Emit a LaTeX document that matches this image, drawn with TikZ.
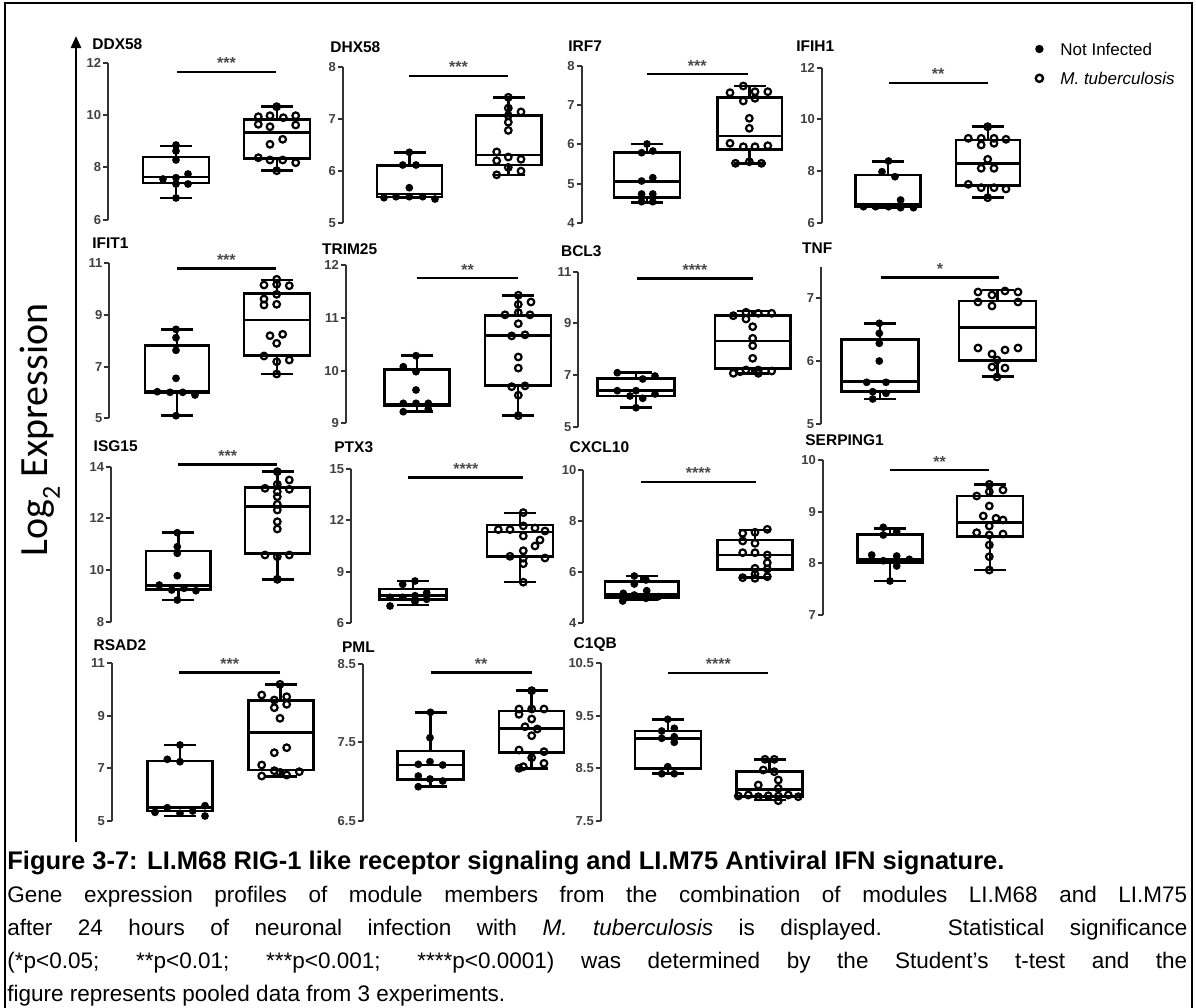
\documentclass[tikz,border=0pt]{standalone}
\usepackage{fontspec}
\setmainfont{Liberation Sans}
\newfontfamily\calibri{Carlito}
\usetikzlibrary{arrows.meta}
\newcommand\yax[5]{%
  \draw[axl] (#2,#3) -- (#2,#4);
  \foreach \yy/\lab [count=\i] in {#5} {%
    \draw[axl] ({#2-5},\yy) -- (#2,\yy);
    \node[tkl, anchor=east] (#1t\i) at ({#2-6.5},\yy) {\lab};}}
\newcommand\sigbar[5]{%
  \draw[sgl] (#2,#4) -- (#3,#4);
  \node[str, anchor=base] (#1) at ({(#2+#3)/2},{#4-3}) {#5};}
\newcommand\bplot[7]{%
  \draw[boxl] ({#1-#2},#4) rectangle ({#1+#2},#6);
  \draw[boxl] ({#1-#2},#5) -- ({#1+#2},#5);
  \draw[boxl] (#1,#4) -- (#1,#3);
  \draw[boxl] (#1,#6) -- (#1,#7);
  \draw[boxl] ({#1-16},#3) -- ({#1+16},#3);
  \draw[boxl] ({#1-16},#7) -- ({#1+16},#7);}
\newcommand\fpts[1]{\foreach \px/\py in {#1} {\fill (\px,\py) circle[radius=3.9];}}
\newcommand\opts[1]{\foreach \px/\py in {#1} {\draw[line width=1.1pt] (\px,\py) circle[radius=3.3];}}
\begin{document}
\begin{tikzpicture}[x=0.5pt,y=-0.5pt,
  boxl/.style={line width=1.4pt, line join=miter},
  axl/.style={line width=0.9pt, black!80},
  sgl/.style={line width=1.2pt},
  ttl/.style={font=\fontsize{7.75}{9}\selectfont\bfseries, inner sep=0pt, anchor=west},
  tkl/.style={font=\fontsize{6.5}{8}\selectfont\bfseries, text=black!75, inner sep=0pt},
  str/.style={font=\fontsize{8}{9}\selectfont\bfseries, text=black!70, inner sep=0pt},
  leg/.style={font=\fontsize{8.5}{10}\selectfont, inner sep=0pt, anchor=west},
  capl/.style={font=\fontsize{11.25}{13}\selectfont, inner sep=0pt, anchor=base west}]
\useasboundingbox (0,0) rectangle (1196,1008);
\fill[white] (0,0) rectangle (1196,1008);
% frame
\draw[line width=0.8pt] (5,1008) -- (5,3) -- (1192,3) -- (1192,1008);
% big axis
\coordinate (ax0) at (76,842);
\coordinate (ax1) at (76,36);
\draw[line width=1.3pt, -{Triangle[length=6pt,width=5pt]}] (ax0) -- (ax1);
\node[rotate=90, font=\calibri\fontsize{20}{24}\selectfont, inner sep=0pt] (ylab) at (40,430)
  {Log\raisebox{-0.3em}{\fontsize{13}{14}\selectfont 2} Expression};

% ---------- DDX58
\node[ttl] (ddx) at (92,44) {DDX58};
\yax{ddx}{108}{63.3}{220}{63.3/12,115/10,167/8,220/6}
\sigbar{ddxs}{177}{276}{71.7}{***}
\bplot{176}{33}{146}{157}{177}{183}{198}
\bplot{277}{33}{106.7}{119.3}{132.7}{158.3}{170.7}
\fpts{176/145,176/151,176/160,163/179,176/177.7,188/174,188/184,176/184,176/198}
\opts{276.7/106.7,258.3/116.7,270/115.7,283.3/117.7,295.7/115.7,258.3/124.3,270/126.7,295.7/125,270/144.3,282.7/139.3,258.3/157.7,270/160,282.7/160,295.7/162.7,276.7/170.7}

% ---------- DHX58
\node[ttl] (dhx) at (330,47) {DHX58};
\yax{dhx}{342.7}{67.3}{222.7}{67.3/8,119/7,171/6,222.7/5}
\sigbar{dhxs}{409}{508}{75.7}{***}
\bplot{409.5}{32.5}{152.3}{165.7}{194}{197}{198}
\bplot{508.8}{32.8}{97.3}{115.7}{155}{165}{175}
\fpts{409.3/152.3,402.7/165,416/165,409.3/187.7,384/197.7,396/196.7,409.3/196.7,422.7/196.7,435/199}
\opts{508.3/97.3,508.3/108.1,521/111.9,508.3/115.6,508.3/122.2,508.3/130.4,496.7/151.9,508.3/157,521/159.3,496.7/160.7,508.3/167.4,521/171.1,496.7/174.8}

% ---------- IRF7
\node[ttl] (irf) at (568,46) {IRF7};
\yax{irf}{581.6}{65.7}{222.7}{65.7/8,105/7,144.3/6,183.7/5,222.7/4}
\sigbar{irfs}{647}{747.6}{74}{***}
\bplot{647}{33}{144}{152.7}{181.7}{197.3}{202.3}
\bplot{749.7}{32.3}{86}{97.3}{136}{149.3}{163.3}
\fpts{647/144,641.6/152.7,652.8/151,641.6/181,652.8/177.7,641.6/194,652.8/194,641.6/201.7,652.8/201.7}
\opts{743.3/86,730/92.7,755/91.7,767.8/91.7,743.3/101,755/98.3,749.3/118.3,749.3/128.3,730/143.3,743.3/146.7,755/146.7,767.8/145.7,735.5/163.3,749.3/161.7,761.4/163.3}

% ---------- IFIH1
\node[ttl] (ifh) at (796,46) {IFIH1};
\yax{ifh}{821.7}{67.7}{223.3}{67.7/12,119.3/10,171/8,223.3/6}
\sigbar{ifhs}{888.5}{987.7}{82.7}{**}
\bplot{888}{32.8}{161.7}{175}{204}{206.7}{207.7}
\bplot{988}{32}{126.7}{140}{163.3}{185.7}{197.7}
\fpts{888.5/161,882/171.7,895/176.7,863.5/206.7,875.6/206.7,888.5/206.7,900.6/200,900.6/207.7,913.5/207.7}
\opts{987.7/126.7,968.3/138.3,981.2/138.3,994/138.3,1006/139.3,981.2/145,994/143.3,987.7/159.3,981.2/168.3,994/168.3,968.3/184.3,981.2/187.7,994/187.7,1006/189,987.7/197.7}

% ---------- legend
\fill (1039.4,49) circle[radius=4.2];
\node[leg] (leg1) at (1060,49) {Not Infected};
\draw[line width=1.2pt] (1039.4,78.3) circle[radius=3.6];
\node[leg] (leg2) at (1060,78.3) {\itshape M. tuberculosis};

% ---------- IFIT1
\node[ttl] (ift) at (92,243.3) {IFIT1};
\yax{ift}{109.3}{263.3}{418.3}{263.3/11,315/9,366.7/7,418.3/5}
\sigbar{ifts}{176.7}{276}{268.3}{***}
\bplot{177}{32}{329.3}{345.7}{391}{393}{415.7}
\bplot{277}{33}{280}{293.3}{320}{355.7}{374}
\fpts{176/329.3,176/337.7,176/350.3,176/378.3,157.3/391.7,170/392.3,182.7/392.3,195/395,176/415.7}
\opts{276.7/279.3,264/285,276.7/284.3,289.3/285.7,276.7/294.3,264/299,264/305,276.7/304.3,270/335.7,282.7/334.3,276.7/343.3,264/356,276.7/361.7,289.3/360,276.7/374}

% ---------- TRIM25
\node[ttl] (trm) at (321.7,249) {TRIM25};
\yax{trm}{345.7}{265}{423.3}{265/12,317.7/11,370.7/10,423.3/9}
\sigbar{trms}{416.7}{518.3}{278}{**}
\bplot{417}{32.5}{355.7}{369.3}{404}{406}{411.7}
\bplot{518}{33}{295.2}{315.3}{335.2}{385.2}{415.6}
\fpts{416/355.7,403.3/366.7,416/371.7,416/390,403.3/403.3,416/403.3,428.3/403.3,403.3/411.7,428.3/409}
\opts{518.3/295.2,518.3/304.4,518.3/312.6,505/314.8,530/314.8,518.3/323.7,511.7/335.9,525/334.8,518.3/357,518.3/368.1,511.7/386.7,525/385.9,518.3/395.2,518.3/415.6,531/302}

% ---------- BCL3
\node[ttl] (bcl) at (560.7,251) {BCL3};
\yax{bcl}{578.3}{271.7}{426.7}{271.7/11,323.3/9,375/7,426.7/5}
\sigbar{bcls}{636.7}{753.3}{278.3}{****}
\bplot{636}{38.3}{372.7}{378.3}{390.7}{396}{407.7}
\bplot{752.8}{37.8}{311}{315.7}{341}{368.3}{373.3}
\fpts{617.3/372.7,655/376,642.7/379,617.3/390.7,630/396,642.7/398.3,655/394,636/407.7,636/390.7}
\opts{733.3/315.7,746/312.3,758.3/313.3,771.7/313.3,746/319,752.7/326.7,752.7/338.3,752.7/345.7,752.7/358.3,733.3/373.3,746/370,758.3/373.3,771.7/371,740/371.7,758.3/370}

% ---------- TNF
\node[ttl] (tnf) at (801.7,248.3) {TNF};
\yax{tnf}{821}{266.7}{424}{297.7/7,361/6,424/5}
\sigbar{tnfs}{880.7}{999.3}{277.3}{*}
\bplot{880}{38.3}{323.3}{339.3}{381.7}{391.7}{399}
\bplot{997.5}{38.5}{290}{301}{327.3}{360.7}{376.7}
\fpts{879.3/323.3,879.3/333.3,879.3/343.3,879.3/361,866.7/382.3,886/382.3,872.7/391.7,886/393.3,872.7/399}
\opts{978/292,992/295,1005/291,1018/292,978/302,992/306,1018/302,978/348,992/354,1005/350,1018/348,997/360,992/367,1005/368,997/377}

% ---------- ISG15
\node[ttl] (isg) at (93.3,445.7) {ISG15};
\yax{isg}{111}{467.3}{621.7}{467.3/14,518.3/12,570/10,621.7/8}
\sigbar{isgs}{178.3}{277.3}{464.3}{***}
\bplot{178.3}{32.3}{532.7}{551}{585.7}{589.3}{600}
\bplot{277.5}{32.5}{471.7}{487.7}{506.7}{553.3}{579.3}
\fpts{177.3/532.7,177.3/546.7,177.3/553.3,177.3/575.7,159.3/585,171.7/590,184/588.3,196/590.7,177.3/600}
\opts{277.3/471.7,265/488.3,277.3/484.3,289.3/480,289.3/489.3,277.3/496.7,277.3/504.3,277.3/510,277.3/521.7,277.3/529,265/555,277.3/556.7,289.3/555,277.3/579.3,277.3/491.7}

% ---------- PTX3
\node[ttl] (ptx) at (334,446.7) {PTX3};
\yax{ptx}{351}{469}{622.7}{469/15,520/12,571.7/9,622.7/6}
\sigbar{ptxs}{408.3}{523.3}{477.6}{****}
\bplot{413}{33.7}{581}{589}{595.7}{599.3}{605}
\bplot{520}{33}{513}{525}{532}{556.2}{582}
\fpts{415/581,402.7/584.3,390/597.3,402.7/597.3,415/595.7,415/601.7,426.7/592.7,426.7/599.3,390/606}
\opts{523.3/512.6,498.3/529.6,510/529.6,523.3/525.9,523.3/536,523.3/550.7,510/556.3,523.3/558.1,523.3/563.7,523.3/582.2,535/528,545/531,535/546,540/540,545/558}

% ---------- CXCL10
\node[ttl] (cxc) at (569.3,446.7) {CXCL10};
\yax{cxc}{583.3}{470}{622.7}{470/10,521/8,571.7/6,622.7/4}
\sigbar{cxcs}{641}{755.7}{481.7}{****}
\bplot{641.7}{36.7}{576}{581.7}{594.3}{597.3}{600}
\bplot{755}{37.7}{530}{540}{555}{569.3}{577.7}
\fpts{634.3/576,646/580,634.3/584,623.3/593.3,634.3/595,646.7/590.7,658.3/596.7,622.7/601,646/598.3}
\opts{742.7/533.3,755/532.3,767.3/529.3,742.7/541,755/543.3,742.7/552.7,755/552.7,767.3/555,767.3/562.7,755/568.3,767.3/569,742.7/577.7,755/574.3,767.3/576.7,755/578.3}

% ---------- SERPING1
\node[ttl] (ser) at (805,440) {SERPING1};
\yax{ser}{822.7}{460}{615}{460/10,511.7/9,563.3/8,615/7}
\sigbar{sers}{890}{989.3}{470}{**}
\bplot{890}{32.5}{528.3}{534.3}{559.3}{562.3}{581}
\bplot{990}{33}{484.3}{496}{522.7}{536.7}{570}
\fpts{883.3/527.3,883.3/535,896.7/531.7,871.7/555,883.3/560.7,896.7/556,896.7/566,909.3/559.3,890/581}
\opts{989.3/484.3,976.7/496,989.3/491.7,989.3/506,983.3/516,996/518.3,989.3/526,976.7/532.7,989.3/535,989.3/545,989.3/556.7,989.3/570,1003/490,1003/520,1003/534}

% ---------- RSAD2
\node[ttl] (rsd) at (93.3,645) {RSAD2};
\yax{rsd}{111.7}{663.3}{820.7}{663.3/11,715.7/9,768.3/7,820.7/5}
\sigbar{rsds}{179.3}{280}{672.3}{***}
\bplot{180}{32.7}{745}{761}{807.7}{811}{816}
\bplot{280.8}{32.5}{684.3}{700.7}{732.3}{770}{776.7}
\fpts{180/745,167.3/759.3,180/761.7,155/812.3,167.3/807.7,180/813.3,192.7/811,205/805.7,205/816}
\opts{280/684.3,261.7/695,274.3/700,286.7/696.7,274.3/707.7,286.7/704.3,280/718.3,274.3/752.7,286.7/747.7,261.7/765,274.3/770.7,286.7/775,299.3/771.7,261.7/776,280/772.3}

% ---------- PML
\node[ttl] (pml) at (341.7,646.7) {PML};
\yax{pml}{362.7}{664}{820.7}{664/8.5,742.3/7.5,820.7/6.5}
\sigbar{pmls}{430.7}{531.7}{672.3}{**}
\bplot{430.5}{33}{712.3}{751}{765}{779.3}{786.7}
\bplot{531.5}{32.5}{690.7}{711}{728.3}{752.3}{768.3}
\fpts{430.5/712.3,430/737.7,430/761.7,418.3/764.3,442.7/765,418.3/776,430/779,442.7/781,418.3/786.7}
\opts{531.7/690.7,519/709,531.7/709,544/709,519/714.3,531.7/719,525/726.7,537.3/729,531.7/735.7,519/750,544/751.7,531.7/757.7,519/768.3,544/763.3,523.3/766.7}

% ---------- C1QB
\node[ttl] (cqb) at (573.3,644.3) {C1QB};
\yax{cqb}{600.7}{663.3}{820.7}{663.3/10.5,715.7/9.5,767.7/8.5,820.7/7.5}
\sigbar{cqbs}{668.3}{768.3}{672.7}{****}
\bplot{668}{33}{719.3}{731}{738.3}{768.3}{773.7}
\bplot{769.5}{32.8}{759.3}{771.7}{789.3}{796.7}{800}
\fpts{667.7/719.3,661.7/731,674.3/728.3,661.7/738.3,674.3/736.7,674.3/742.3,667.7/766.7,661.7/773.7,674.3/773.7}
\opts{765/759.3,774.3/759.3,763.3/770,774.3/771.7,758.3/785,778.3/780,778.3/788.3,738.3/796,748.3/795,758.3/796.7,768.3/795.7,778.3/796,788.3/795,798.3/796.7,778.3/800.7}

% ---------- caption
\node[capl, font=\fontsize{12.75}{15}\selectfont\bfseries] (cap0) at (7,869)
  {Figure 3-7: LI.M68 RIG-1 like receptor signaling and LI.M75 Antiviral IFN signature.};
\node[capl] (cap1) at (7,902)
  {\hbox to 590pt{Gene expression profiles of module members from the combination of modules LI.M68 and LI.M75}};
\node[capl] (cap2) at (7,935)
  {\hbox to 590pt{after 24 hours of neuronal infection with \textit{M. tuberculosis} is displayed. Statistical significance}};
\node[capl] (cap3) at (7,968)
  {\hbox to 590pt{(*p<0.05; **p<0.01; ***p<0.001; ****p<0.0001) was determined by the Student’s t-test and the}};
\node[capl] (cap4) at (7,1001)
  {figure represents pooled data from 3 experiments.};
\end{tikzpicture}
\end{document}
